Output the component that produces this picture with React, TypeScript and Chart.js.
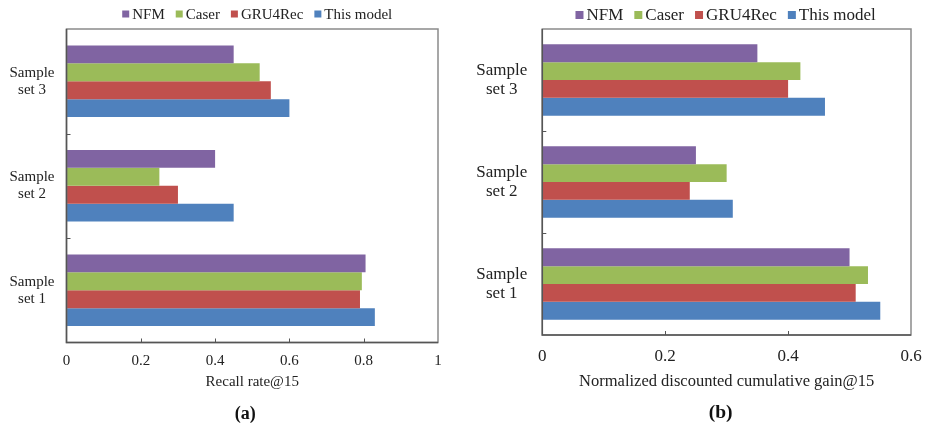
import React, { useEffect, useRef } from "react";
import { Chart, registerables } from "chart.js";

Chart.register(...registerables);

const categories = [["Sample", "set 3"], ["Sample", "set 2"], ["Sample", "set 1"]];
const seriesNames = ["NFM", "Caser", "GRU4Rec", "This model"];
const seriesColors = ["#8064A2", "#9BBB59", "#C0504D", "#4F81BD"];

// values ordered as categories: set 3, set 2, set 1
const recallNFM = [0.45, 0.4, 0.805];
const recallCaser = [0.52, 0.25, 0.795];
const recallGRU4Rec = [0.55, 0.3, 0.79];
const recallThisModel = [0.6, 0.45, 0.83];

const ndcgNFM = [0.35, 0.25, 0.5];
const ndcgCaser = [0.42, 0.3, 0.53];
const ndcgGRU4Rec = [0.4, 0.24, 0.51];
const ndcgThisModel = [0.46, 0.31, 0.55];

const recallTicks = [0, 0.2, 0.4, 0.6, 0.8, 1];
const ndcgTicks = [0, 0.2, 0.4, 0.6];

const SERIF = "'Liberation Serif', 'Times New Roman', serif";

type Cfg = {
  series: number[][];
  max: number;
  ticks: number[];
  xTitle: string;
  panel: string;
  width: number;
  pad: { left: number; right: number; top: number; bottom: number };
  yWidth: number;
  xHeight: number;
  yPad: number;
  fs: number;
  legendFs: number;
  legendBox: number;
  legendDx: number;
  legendY: number;
  titleFs: number;
  titlePadBottom: number;
  xTickPad: number;
  panelY: number;
  panelDx: number;
  catPct: number;
};

const frame = {
  id: "frame",
  afterDatasetsDraw(chart: any, _args: any, opts: any) {
    const { ctx, chartArea: a } = chart;
    const xs = chart.scales.x;
    const ys = chart.scales.y;
    ctx.save();
    ctx.strokeStyle = "#8a8a8a";
    ctx.lineWidth = 1.5;
    ctx.strokeRect(a.left, a.top, a.right - a.left, a.bottom - a.top);
    ctx.strokeStyle = "#555555";
    ctx.beginPath();
    ctx.moveTo(a.left, a.top);
    ctx.lineTo(a.left, a.bottom);
    ctx.lineTo(a.right, a.bottom);
    ctx.stroke();
    ctx.lineWidth = 1;
    const n = chart.data.labels.length;
    for (let i = 0; i < n - 1; i++) {
      const yv = (ys.getPixelForTick(i) + ys.getPixelForTick(i + 1)) / 2;
      ctx.beginPath();
      ctx.moveTo(a.left, Math.round(yv) + 0.5);
      ctx.lineTo(a.left + 4, Math.round(yv) + 0.5);
      ctx.stroke();
    }
    const tv: number[] = opts.ticks;
    tv.forEach((v) => {
      const px = xs.getPixelForValue(v);
      if (px <= a.left + 1 || px >= a.right - 1) return;
      ctx.beginPath();
      ctx.moveTo(Math.round(px) + 0.5, a.bottom);
      ctx.lineTo(Math.round(px) + 0.5, a.bottom - 4);
      ctx.stroke();
    });
    ctx.restore();
  },
  afterDraw(chart: any, _args: any, opts: any) {
    const { ctx, chartArea: a } = chart;
    ctx.save();
    ctx.font = `${opts.legendFs}px ${SERIF}`;
    ctx.textBaseline = "middle";
    const box = opts.legendBox;
    const gapBoxText = 3;
    const gapItems = 11;
    const items = chart.data.datasets.map((d: any) => ({
      label: d.label,
      color: d.backgroundColor,
      w: box + gapBoxText + ctx.measureText(d.label).width,
    }));
    const total = items.reduce((s: number, it: any) => s + it.w, 0) + gapItems * (items.length - 1);
    let x = (a.left + a.right) / 2 + opts.legendDx - total / 2;
    const y = opts.legendY;
    items.forEach((it: any) => {
      ctx.fillStyle = it.color;
      ctx.fillRect(x, y - box / 2, box, box);
      ctx.fillStyle = "#222";
      ctx.textAlign = "left";
      ctx.fillText(it.label, x + box + gapBoxText, y + 1);
      x += it.w + gapItems;
    });
    ctx.font = `bold ${opts.panelFs}px ${SERIF}`;
    ctx.textAlign = "center";
    ctx.fillStyle = "#111";
    ctx.fillText(opts.panel, (a.left + a.right) / 2 + opts.panelDx, opts.panelY);
    ctx.restore();
  },
};

function Panel({ cfg }: { cfg: Cfg }) {
  const ref = useRef<HTMLCanvasElement | null>(null);
  useEffect(() => {
    if (!ref.current) return;
    const chart = new Chart(ref.current, {
      type: "bar",
      data: {
        labels: categories,
        datasets: seriesNames.map((name, i) => ({
          label: name,
          data: cfg.series[i],
          backgroundColor: seriesColors[i],
          borderWidth: 0,
          barPercentage: 1,
          categoryPercentage: cfg.catPct,
        })),
      },
      options: {
        indexAxis: "y",
        animation: false,
        responsive: false,
        maintainAspectRatio: false,
        layout: { padding: cfg.pad },
        plugins: {
          legend: { display: false },
          tooltip: { enabled: false },
          frame: {
            ticks: cfg.ticks,
            legendFs: cfg.legendFs,
            legendBox: cfg.legendBox,
            legendDx: cfg.legendDx,
            legendY: cfg.legendY,
            panel: cfg.panel,
            panelFs: cfg.titleFs + 3,
            panelY: cfg.panelY,
            panelDx: cfg.panelDx,
          },
        } as any,
        scales: {
          x: {
            min: 0,
            max: cfg.max,
            afterFit: (s: any) => {
              s.height = cfg.xHeight;
              s.paddingLeft = 0;
              s.paddingRight = 0;
            },
            afterBuildTicks: (s: any) => {
              s.ticks = cfg.ticks.map((v) => ({ value: v }));
            },
            grid: { display: false, drawTicks: false },
            border: { display: false },
            ticks: {
              padding: cfg.xTickPad,
              color: "#222",
              font: { family: SERIF, size: cfg.fs },
              callback: (v: any) => String(Number(v)),
            },
            title: {
              display: true,
              text: cfg.xTitle,
              color: "#222",
              font: { family: SERIF, size: cfg.titleFs },
              padding: { top: 0, bottom: cfg.titlePadBottom },
            },
          },
          y: {
            afterFit: (s: any) => {
              s.width = cfg.yWidth;
              s.paddingTop = 0;
              s.paddingBottom = 0;
            },
            grid: { display: false, drawTicks: false },
            border: { display: false },
            ticks: {
              padding: cfg.yPad,
              crossAlign: "center",
              color: "#222",
              font: { family: SERIF, size: cfg.fs, lineHeight: 1.12 },
            },
          },
        },
      },
      plugins: [frame],
    } as any);
    return () => chart.destroy();
  }, [cfg]);
  return <canvas ref={ref} width={cfg.width} height={429} style={{ display: "block", width: cfg.width, height: 429 }} />;
}

const leftCfg: Cfg = {
  series: [recallNFM, recallCaser, recallGRU4Rec, recallThisModel],
  max: 1,
  ticks: recallTicks,
  xTitle: "Recall rate@15",
  panel: "(a)",
  width: 470,
  pad: { left: 0, right: 32, top: 29, bottom: 0 },
  yWidth: 66.5,
  xHeight: 429 - 342.5,
  yPad: 12,
  fs: 15,
  legendFs: 15,
  legendBox: 7,
  legendDx: 5,
  legendY: 14,
  titleFs: 15,
  titlePadBottom: 38,
  xTickPad: 10,
  panelY: 414,
  panelDx: -7,
  catPct: 0.686,
};

const rightCfg: Cfg = {
  series: [ndcgNFM, ndcgCaser, ndcgGRU4Rec, ndcgThisModel],
  max: 0.6,
  ticks: ndcgTicks,
  xTitle: "Normalized discounted cumulative gain@15",
  panel: "(b)",
  width: 455,
  pad: { left: 0, right: 14, top: 29, bottom: 0 },
  yWidth: 72.3,
  xHeight: 429 - 335,
  yPad: 15,
  fs: 17,
  legendFs: 17,
  legendBox: 8,
  legendDx: -1,
  legendY: 15,
  titleFs: 16.5,
  titlePadBottom: 37,
  xTickPad: 11,
  panelY: 413,
  panelDx: -6,
  catPct: 0.7,
};

export default function App() {
  return (
    <div style={{ position: "fixed", left: 0, top: 0, width: 925, height: 429, background: "#fff", display: "flex" }}>
      <Panel cfg={leftCfg} />
      <Panel cfg={rightCfg} />
    </div>
  );
}
